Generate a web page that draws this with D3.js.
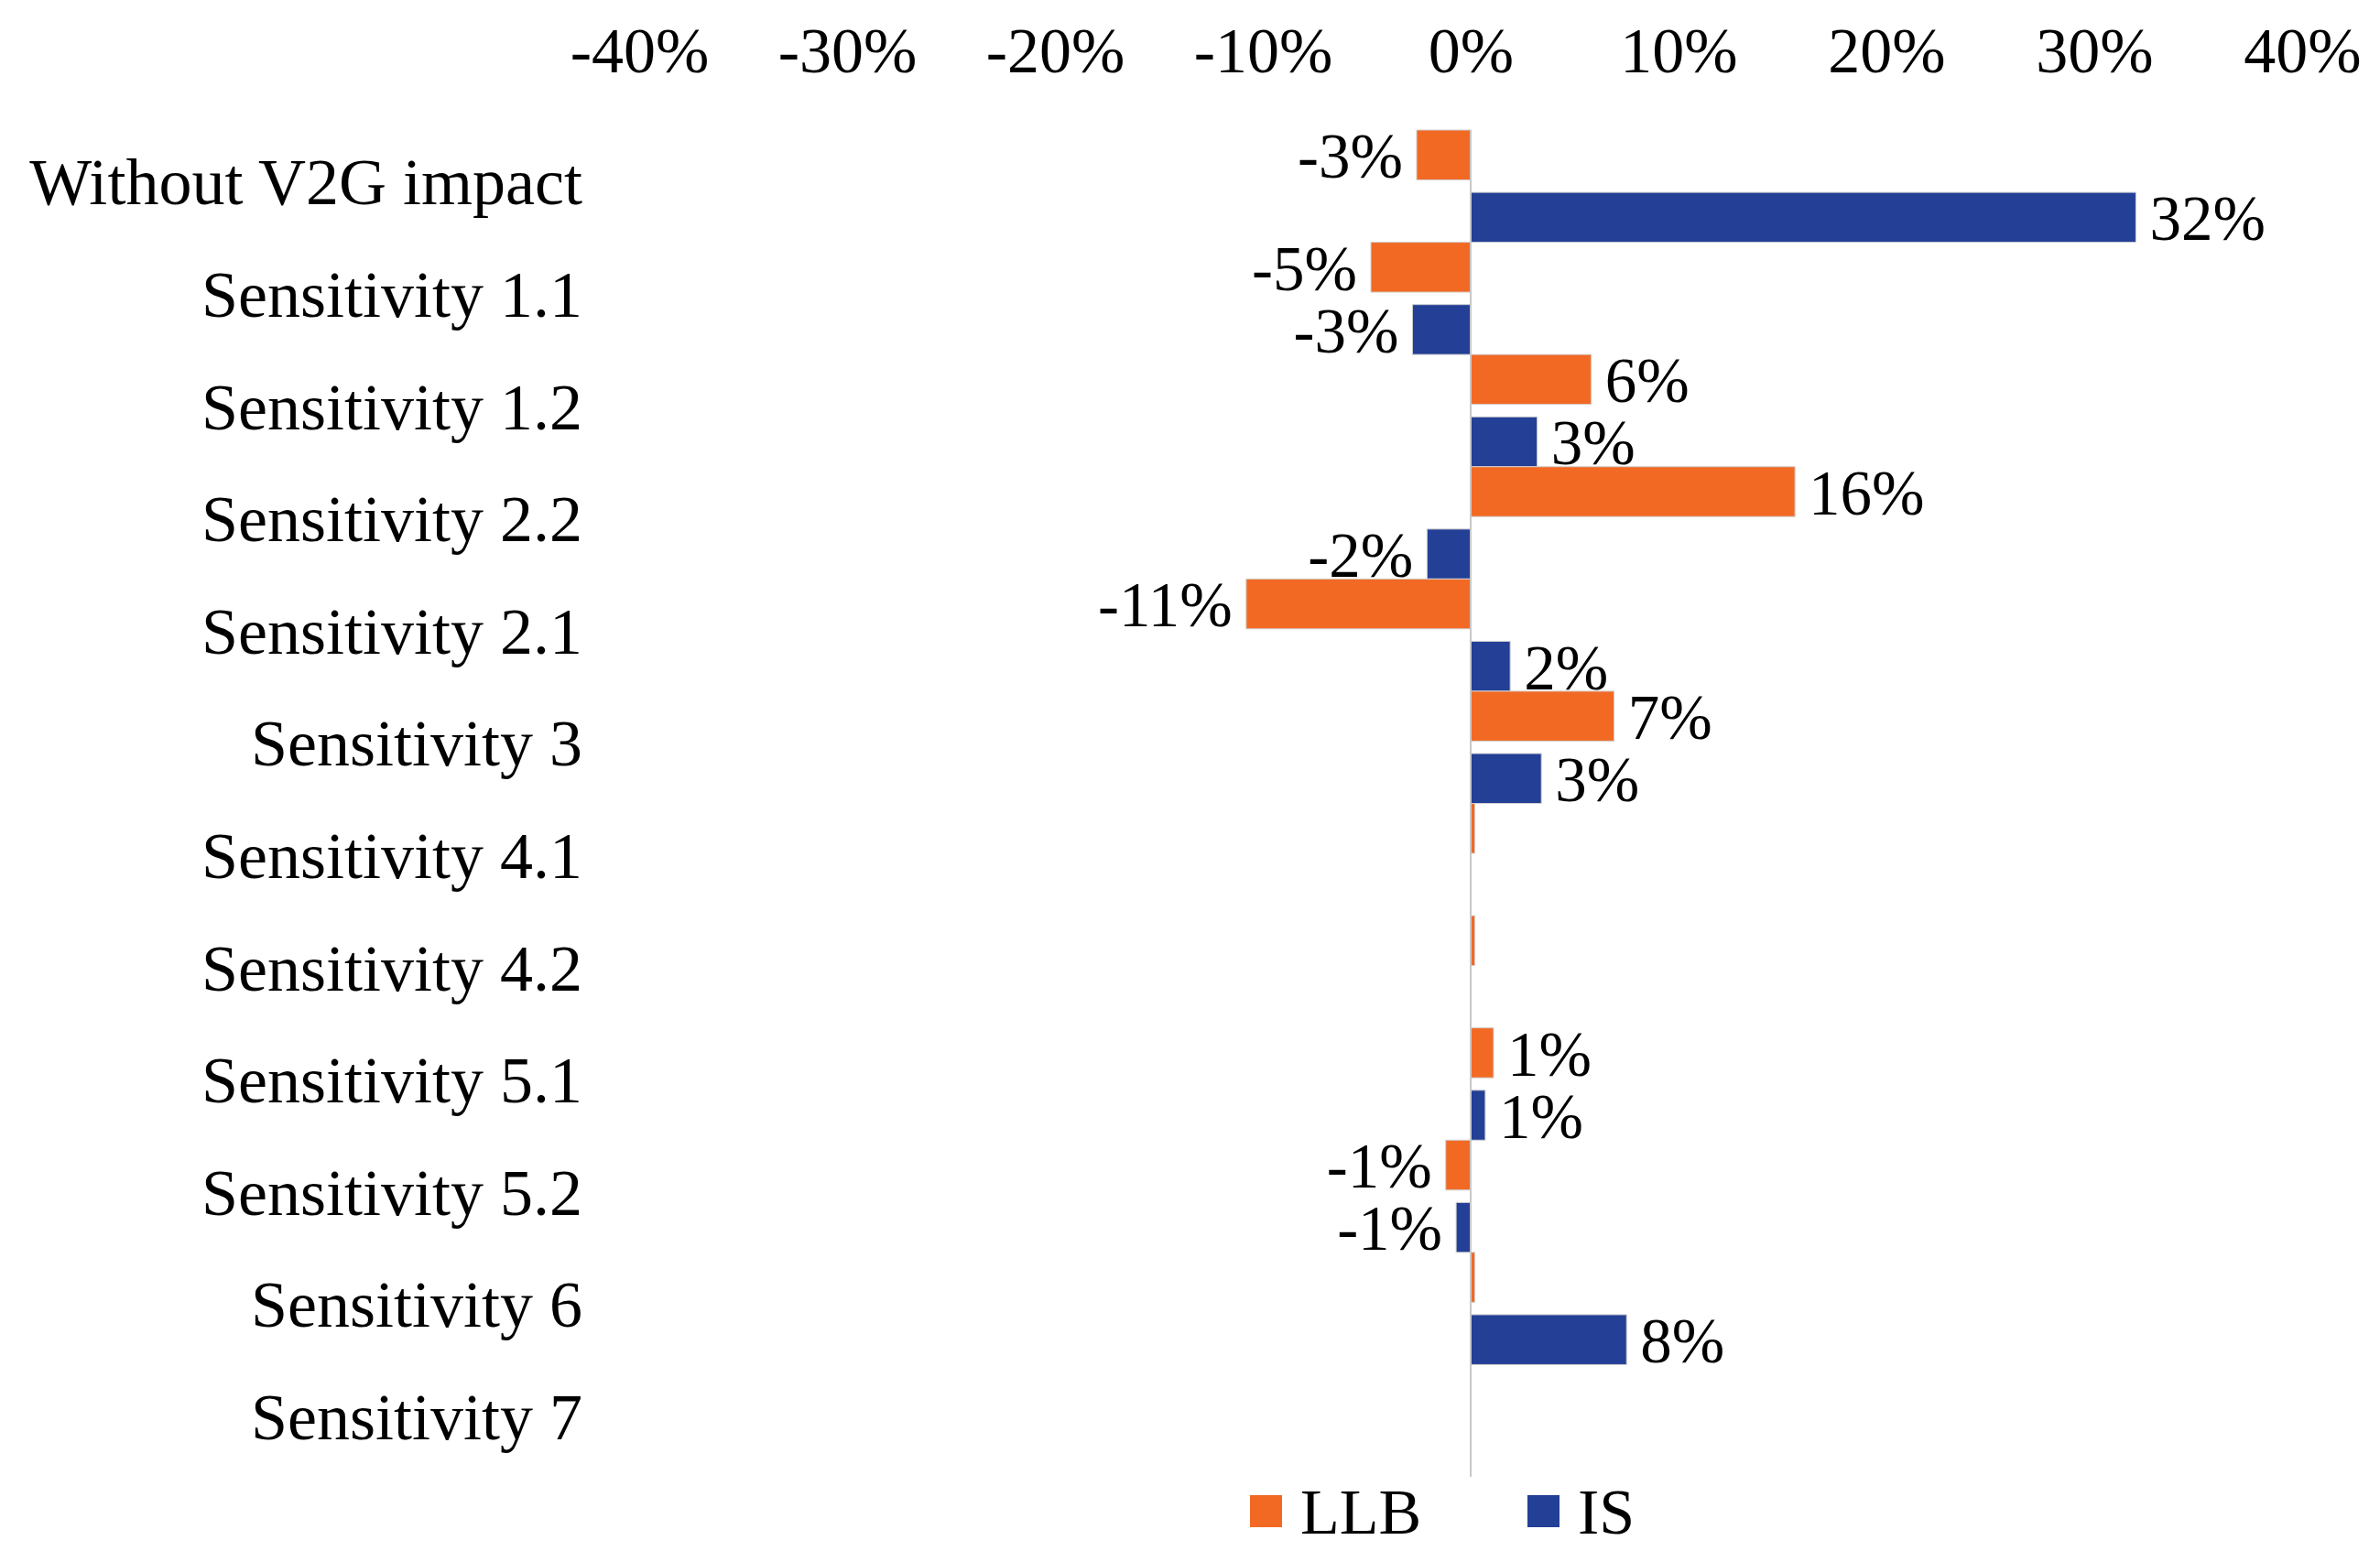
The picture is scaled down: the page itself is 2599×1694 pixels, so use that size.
<!DOCTYPE html>
<html lang="en">
<head>
    <meta charset="UTF-8">
    <title>V2G sensitivity chart</title>
    <script src="https://d3js.org/d3.v7.min.js"></script>
    <style>
        body {
            margin: 0;
            padding: 0;
            background: white;
            overflow: hidden;
        }
        text {
            font-family: "Liberation Serif", "Times New Roman", serif;
            fill: #000;
        }
        .axis path {
            stroke: none;
        }
        .axis line {
            stroke: none;
        }
    </style>
</head>
<body>
    <div id="chart"></div>

    <script>
        // Data
        const categories = [
            "Without V2G impact", "Sensitivity 1.1", "Sensitivity 1.2", "Sensitivity 2.2",
            "Sensitivity 2.1", "Sensitivity 3", "Sensitivity 4.1", "Sensitivity 4.2",
            "Sensitivity 5.1", "Sensitivity 5.2", "Sensitivity 6", "Sensitivity 7"
        ];
        const seriesNames = ["LLB", "IS"];
        const llbValues = [-0.026, -0.048, 0.058, 0.156, -0.108, 0.069, 0.002, 0.002, 0.011, -0.012, 0.002, 0];
        const isValues = [0.32, -0.028, 0.032, -0.021, 0.019, 0.034, 0, 0, 0.007, -0.007, 0.075, 0];
        const xTicks = [-0.4, -0.3, -0.2, -0.1, 0, 0.1, 0.2, 0.3, 0.4];
        const colors = {LLB: "#F26924", IS: "#233F96"};

        const W = 2599, H = 1694;
        const fontSize = 70;

        // percent format with a plain hyphen, as in the original
        const pct = v => d3.format(".0%")(v).replace("\u2212", "-");

        const svg = d3.select("#chart").append("svg")
            .attr("width", W)
            .attr("height", H);

        // Scales
        const x = d3.scaleLinear()
            .domain([-0.4, 0.4])
            .range([698, 2514]);

        const y = d3.scaleBand()
            .domain(categories)
            .range([142, 1613])
            .paddingInner(0)
            .paddingOuter(0);

        const ySub = d3.scaleBand()
            .domain(seriesNames)
            .range([0, y.bandwidth()])
            .paddingInner(0.2)
            .paddingOuter(0);

        // Top axis with percentage labels
        const xAxis = d3.axisTop(x)
            .tickValues(xTicks)
            .tickSize(0)
            .tickPadding(0)
            .tickFormat(pct);

        svg.append("g")
            .attr("class", "axis")
            .attr("transform", "translate(0,79)")
            .call(xAxis)
            .call(g => g.selectAll("text")
                .attr("font-size", fontSize)
                .attr("font-family", "Liberation Serif, Times New Roman, serif")
                .attr("fill", "#000")
                .attr("dy", 0));

        // Category labels on the left
        svg.append("g")
            .selectAll("text")
            .data(categories)
            .join("text")
            .attr("x", 636)
            .attr("y", d => y(d) + y.bandwidth() / 2)
            .attr("dy", "0.28em")
            .attr("text-anchor", "end")
            .attr("font-size", fontSize + 2)
            .text(d => d);

        // Bars
        const rows = [];
        categories.forEach((c, i) => {
            rows.push({cat: c, series: "LLB", value: llbValues[i]});
            rows.push({cat: c, series: "IS", value: isValues[i]});
        });

        svg.append("g")
            .selectAll("rect")
            .data(rows.filter(d => d.value !== 0))
            .join("rect")
            .attr("x", d => x(Math.min(0, d.value)))
            .attr("y", d => y(d.cat) + ySub(d.series))
            .attr("width", d => Math.abs(x(d.value) - x(0)))
            .attr("height", ySub.bandwidth())
            .attr("fill", d => colors[d.series])
            .attr("stroke", "#d0d0d0")
            .attr("stroke-width", 1);

        // Zero line
        svg.append("line")
            .attr("x1", x(0))
            .attr("x2", x(0))
            .attr("y1", y.range()[0])
            .attr("y2", y.range()[1])
            .attr("stroke", "#c8c8c8")
            .attr("stroke-width", 2);

        // Data labels (only where rounded value is non-zero)
        svg.append("g")
            .selectAll("text")
            .data(rows.filter(d => Math.round(d.value * 100) !== 0))
            .join("text")
            .attr("x", d => d.value >= 0 ? x(d.value) + 15 : x(d.value) - 15)
            .attr("y", d => y(d.cat) + ySub(d.series) + ySub.bandwidth() / 2)
            .attr("dy", "0.36em")
            .attr("text-anchor", d => d.value >= 0 ? "start" : "end")
            .attr("font-size", fontSize - 1)
            .text(d => pct(d.value));

        // Legend
        const legend = svg.append("g")
            .attr("transform", "translate(0,1650)");
        const legendX = {LLB: 1365, IS: 1668};
        const item = legend.selectAll("g")
            .data(seriesNames)
            .join("g")
            .attr("transform", d => `translate(${legendX[d]},0)`);
        item.append("rect")
            .attr("x", 0)
            .attr("y", -17)
            .attr("width", 35)
            .attr("height", 35)
            .attr("fill", d => colors[d]);
        item.append("text")
            .attr("x", 55)
            .attr("y", 0)
            .attr("dy", "0.35em")
            .attr("font-size", fontSize)
            .text(d => d);
    </script>
</body>
</html>
